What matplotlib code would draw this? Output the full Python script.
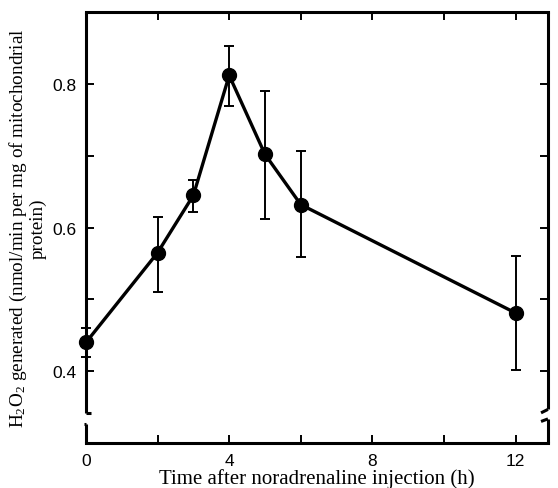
import matplotlib
matplotlib.use("Agg")
import matplotlib.pyplot as plt
import numpy as np

plt.rcParams['mathtext.fontset'] = 'custom'
plt.rcParams['mathtext.rm'] = 'Liberation Serif'
plt.rcParams['mathtext.it'] = 'Liberation Serif:italic'

# time after injection (h) and H2O2 generation
hours = [0, 2, 3, 4, 5, 6, 12]
h2o2 = [0.440, 0.565, 0.645, 0.812, 0.702, 0.632, 0.481]
err_lo = [0.420, 0.511, 0.622, 0.770, 0.612, 0.559, 0.402]
err_hi = [0.460, 0.615, 0.666, 0.853, 0.790, 0.707, 0.560]

xticks = [0, 4, 8, 12]
yticks = [0.4, 0.6, 0.8]

fig = plt.figure(figsize=(5.58, 4.89), dpi=100)
ax = fig.add_axes([0.154, 0.092, 0.828, 0.881])

yerr = np.array([np.array(h2o2) - np.array(err_lo), np.array(err_hi) - np.array(h2o2)])
ax.errorbar(hours, h2o2, yerr=yerr, fmt='o-', color='black', lw=2.4, ms=10,
            elinewidth=1.4, capsize=3.5, capthick=1.4, clip_on=False, zorder=3)

ax.set_xlim(0, 12.9)
ax.set_ylim(0.3, 0.9)
ax.set_xticks(xticks)
ax.set_xticks([2, 6, 10], minor=True)
ax.set_yticks(yticks)
ax.set_yticks([0.5, 0.7], minor=True)
ax.set_yticklabels(['0.4', '0.6', '0.8'])
ax.tick_params(which='both', direction='in', length=6, width=1.4,
               top=True, right=True, labelsize=12.5, pad=7)
for lab in ax.get_xticklabels() + ax.get_yticklabels():
    lab.set_family('Liberation Sans')

for s in ['top', 'bottom']:
    ax.spines[s].set_linewidth(2.2)
ax.spines['left'].set_visible(False)
ax.spines['right'].set_visible(False)

# broken left and right spines
kw = dict(transform=ax.transAxes, color='black', lw=2.2, clip_on=False, solid_capstyle='butt')
ax.plot([0, 0], [1, 0.07], **kw)
ax.plot([0, 0.012], [0.07, 0.07], **kw)
ax.plot([0, 0], [0.044, 0], **kw)
ax.plot([-0.004, 0.0], [0.044, 0.044], **kw)
ax.plot([1, 1], [1, 0.078], **kw)
ax.plot([1, 0.985], [0.078, 0.07], **kw)
ax.plot([1, 1], [0.056, 0], **kw)
ax.plot([1, 0.985], [0.056, 0.05], **kw)

ax.set_xlabel('Time after noradrenaline injection (h)', family='Liberation Serif',
              fontsize=15, labelpad=0)
ax.set_ylabel('H$_2$O$_2$ generated (nmol/min per mg of mitochondrial\nprotein)',
              family='Liberation Serif', fontsize=13.8, labelpad=4, linespacing=1.0)

fig.savefig('out.png', dpi=100)
